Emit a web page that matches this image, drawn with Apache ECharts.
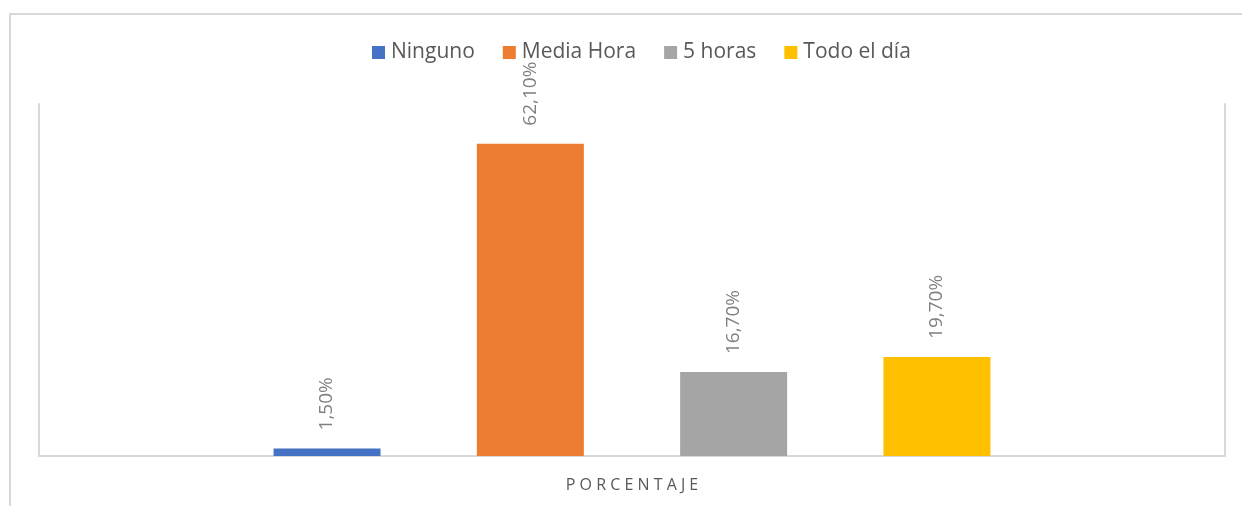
<!DOCTYPE html>
<html>
<head>
<meta charset="utf-8">
<script src="https://cdn.jsdelivr.net/npm/echarts@6/dist/echarts.min.js"></script>
<style>
  html, body { margin: 0; padding: 0; background: #fff; }
  #chart { width: 1242px; height: 506px; }
</style>
</head>
<body>
<div id="chart"></div>
<script>
// datos
var categories = ["PORCENTAJE"];
var seriesNames = ["Ninguno", "Media Hora", "5 horas", "Todo el día"];
var seriesValues = [[1.5], [62.1], [16.7], [19.7]];
var colors = ["#4472c4", "#ed7d31", "#a5a5a5", "#ffc000"];

var chart = echarts.init(document.getElementById("chart"));

var series = [];
for (var i = 0; i < seriesNames.length; i++) {
    series.push({
        name: seriesNames[i],
        type: "bar",
        data: seriesValues[i],
        barWidth: 107,
        barGap: "90%",
        itemStyle: { color: colors[i] },
        label: {
            show: true,
            position: "top",
            rotate: 90,
            align: "left",
            verticalAlign: "middle",
            distance: 17,
            offset: [1, 0],
            color: "#808080",
            fontSize: 19,
            fontFamily: "Open Sans",
            formatter: function (p) {
                return p.value.toFixed(2).replace(".", ",") + "%";
            }
        }
    });
}

var option = {
    animation: false,
    color: colors,
    graphic: [{
        type: "rect",
        shape: { x: 10, y: 14, width: 1260, height: 520 },
        style: { fill: "none", stroke: "#d9d9d9", lineWidth: 2 },
        silent: true
    }],
    legend: {
        top: 37,
        left: 367,
        itemWidth: 13,
        itemHeight: 13,
        itemGap: 28,
        icon: "rect",
        textStyle: { color: "#595959", fontSize: 21, fontFamily: "Open Sans", padding: [0, 0, 0, 1] },
        data: seriesNames
    },
    grid: { left: 39, right: 17, top: 104, bottom: 50 },
    xAxis: {
        type: "category",
        data: categories,
        axisTick: { show: false },
        axisLine: { lineStyle: { color: "#d9d9d9", width: 2 } },
        axisLabel: {
            margin: 21,
            color: "#595959",
            fontSize: 16,
            fontFamily: "Open Sans",
            formatter: function (v) { return v.split("").join(" "); }
        }
    },
    yAxis: [{
        type: "value",
        min: 0,
        max: 70,
        axisLabel: { show: false },
        axisTick: { show: false },
        splitLine: { show: false },
        axisLine: { show: true, lineStyle: { color: "#d9d9d9", width: 2 } }
    }, {
        type: "value",
        position: "right",
        min: 0,
        max: 70,
        axisLabel: { show: false },
        axisTick: { show: false },
        splitLine: { show: false },
        axisLine: { show: true, lineStyle: { color: "#d9d9d9", width: 2 } }
    }],
    series: series
};

chart.setOption(option);
</script>
</body>
</html>
